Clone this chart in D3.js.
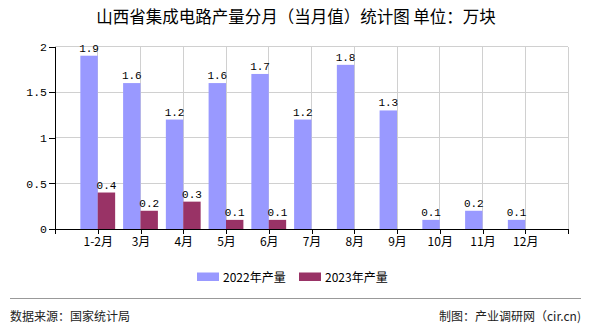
<!DOCTYPE html>
<html><head><meta charset="utf-8">
<script src="https://cdn.jsdelivr.net/npm/d3@7/dist/d3.min.js"></script>
<style>
html,body{margin:0;padding:0;background:#fff;}
svg{display:block;}
</style></head>
<body><svg id="c" width="590" height="330"></svg>
<script>
const categories = ["1-2月","3月","4月","5月","6月","7月","8月","9月","10月","11月","12月"];
const series2022 = [1.9,1.6,1.2,1.6,1.7,1.2,1.8,1.3,0.1,0.2,0.1];
const series2023 = [0.4,0.2,0.3,0.1,0.1,null,null,null,null,null,null];
const seriesNames = ["2022年产量","2023年产量"];
const seriesColors = ["#9999FF","#993366"];
const yTicks = [0,0.5,1,1.5,2];
const titleText = "山西省集成电路产量分月（当月值）统计图 单位：万块";
const sourceText = "数据来源：国家统计局";
const creditText = "制图：产业调研网（cir.cn)";

const svg = d3.select("#c");
const L = 55, R = 568, T = 46.6, B = 229;
const x = d3.scalePoint().domain(categories).range([L, R]).padding(1);
const y = d3.scaleLinear().domain([0, 2]).range([B, T]);
const barW = 17.4;
const cjk = "'Noto Sans CJK SC', sans-serif";
const mono = "'Liberation Mono', 'DejaVu Sans Mono', monospace";

// title
svg.append("text").attr("x", 296).attr("y", 23).attr("text-anchor", "middle")
  .attr("font-family", cjk).attr("font-size", 16.5).attr("fill", "#000").text(titleText);

// grid
const g = svg.append("g");
g.selectAll("line.h").data(yTicks.filter(d => d > 0)).join("line")
  .attr("x1", L).attr("x2", R).attr("y1", d => y(d)).attr("y2", d => y(d))
  .attr("stroke", "#d0d0d0").attr("stroke-width", 1).attr("shape-rendering", "crispEdges");
g.selectAll("line.v").data(categories.map(c => x(c)).concat([R])).join("line")
  .attr("x1", d => d).attr("x2", d => d).attr("y1", T).attr("y2", B)
  .attr("stroke", "#d0d0d0").attr("stroke-width", 1).attr("shape-rendering", "crispEdges");

// bars
const data = [];
categories.forEach((c, i) => {
  [series2022, series2023].forEach((s, k) => {
    if (s[i] != null) data.push({c, k, v: s[i]});
  });
});
svg.append("g").selectAll("rect").data(data).join("rect")
  .attr("x", d => x(d.c) + (d.k === 0 ? -barW : 0))
  .attr("y", d => y(d.v)).attr("width", barW).attr("height", d => B - y(d.v))
  .attr("fill", d => seriesColors[d.k]);
svg.append("g").selectAll("text").data(data).join("text")
  .attr("x", d => x(d.c) + (d.k === 0 ? -barW / 2 : barW / 2))
  .attr("y", d => y(d.v) - 4).attr("text-anchor", "middle")
  .attr("font-family", mono).attr("font-size", 11).attr("fill", "#000")
  .text(d => d3.format(".1f")(d.v));

// axes
const xa = svg.append("g").attr("transform", `translate(0,${B})`)
  .call(d3.axisBottom(x).tickSize(5).tickSizeOuter(5).tickPadding(3));
const ya = svg.append("g").attr("transform", `translate(${L},0)`)
  .call(d3.axisLeft(y).tickValues(yTicks).tickFormat(d3.format("")).tickSize(6).tickSizeOuter(6).tickPadding(2));
[xa, ya].forEach(a => {
  a.selectAll("path,line").attr("stroke", "#000").attr("shape-rendering", "crispEdges");
  a.selectAll("text").attr("fill", "#000").attr("font-family", cjk).attr("font-size", 12);
});
ya.selectAll("text").attr("font-family", mono).attr("font-size", 11.5);

// legend
const lg = svg.append("g");
const lx = [197, 299];
seriesNames.forEach((n, i) => {
  lg.append("rect").attr("x", lx[i]).attr("y", 272.5).attr("width", 22).attr("height", 8.5).attr("fill", seriesColors[i]);
  lg.append("text").attr("x", lx[i] + 26).attr("y", 281.5).attr("font-family", cjk).attr("font-size", 12)
    .attr("fill", "#000").text(n);
});

// footer
svg.append("line").attr("x1", 10).attr("x2", 581).attr("y1", 298.5).attr("y2", 298.5)
  .attr("stroke", "#999").attr("stroke-width", 1.2);
svg.append("text").attr("x", 10).attr("y", 321).attr("font-family", cjk).attr("font-size", 12)
  .attr("fill", "#222").text(sourceText);
svg.append("text").attr("x", 581).attr("y", 321).attr("text-anchor", "end").attr("font-family", cjk).attr("font-size", 12)
  .attr("fill", "#222").text(creditText);
</script></body></html>
